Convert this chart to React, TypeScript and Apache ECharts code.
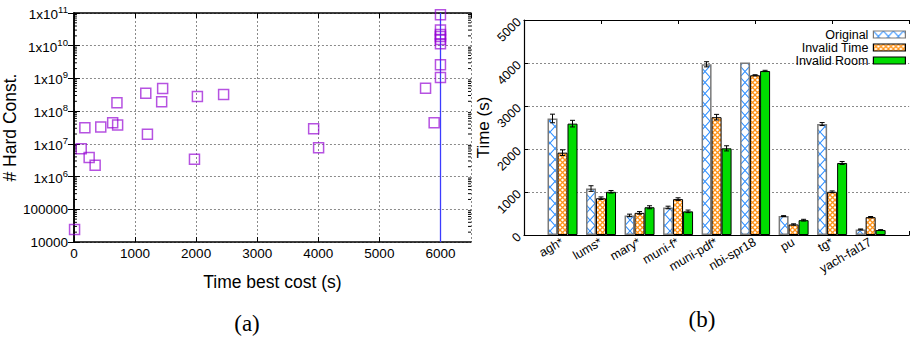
import React, { useEffect, useRef } from 'react';
import * as echarts from 'echarts';

// ---------- (a) scatter: time of best cost vs # hard constraints ----------
const scatterTime = [10, 119, 179, 249, 347, 439, 634, 715, 704, 1176, 1203, 1452, 1436, 2021, 1973, 2450, 3924, 4005, 5756, 5897, 6000, 6000, 6000, 6000, 6000, 6000, 6000, 6000];
const scatterHard = [2.4e4, 7.1e6, 3.1e7, 3.8e6, 2.2e6, 3.3e7, 4.4e7, 3.8e7, 1.8e8, 3.5e8, 1.95e7, 4.9e8, 1.95e8, 2.8e8, 3.4e6, 3.2e8, 2.9e7, 7.6e6, 5e8, 4.4e7, 8.9e10, 3e10, 2.2e10, 1.9e10, 1.55e10, 1.15e10, 2.6e9, 1.07e9];
const timeLimit = 6000;
const xMin = 0;
const xMax = 6500;
const xStep = 1000;
const yMin = 1e4;
const yMax = 1e11;

// ---------- (b) grouped bars ----------
const instances = ['agh*', 'lums*', 'mary*', 'muni-f*', 'muni-pdf*', 'nbi-spr18', 'pu', 'tg*', 'yach-fal17'];
const seriesNames = ['Original', 'Invalid Time', 'Invalid Room'];
const originalTime = [2710, 1080, 455, 640, 3970, 4010, 440, 2580, 130];
const originalErr = [100, 65, 30, 30, 60, 0, 10, 35, 10];
const invalidTimeTime = [1915, 855, 515, 835, 2740, 3715, 245, 1005, 415];
const invalidTimeErr = [65, 30, 30, 30, 65, 12, 15, 20, 15];
const invalidRoomTime = [2590, 1005, 645, 550, 2015, 3815, 345, 1675, 115];
const invalidRoomErr = [77, 30, 35, 30, 60, 15, 20, 35, 10];

const FONT = '"Liberation Sans", Arial, Helvetica, sans-serif';

function svgPattern(svg: string, w: number, h: number) {
  return {
    image: 'data:image/svg+xml;charset=utf-8,' + encodeURIComponent(svg),
    repeat: 'repeat',
    imageWidth: w,
    imageHeight: h,
  };
}

const bluePattern = svgPattern(
  "<svg xmlns='http://www.w3.org/2000/svg' width='10' height='11'><rect width='10' height='11' fill='white'/><path d='M0 0L10 11M10 0L0 11' stroke='#2e8fff' stroke-width='1.1' fill='none'/></svg>",
  10,
  11
);
const orangePattern = svgPattern(
  "<svg xmlns='http://www.w3.org/2000/svg' width='5' height='5'><rect width='5' height='5' fill='white'/><path d='M0 0L5 5M5 0L0 5' stroke='#ff9318' stroke-width='1.3' fill='none'/></svg>",
  5,
  5
);

const padCats = [' ', ...instances, '  '];
const pad = (a: number[]) => [null, ...a, null];

function errorSeries(vals: number[], errs: number[], offset: number) {
  return {
    type: 'custom',
    xAxisIndex: 2,
    yAxisIndex: 2,
    z: 5,
    silent: true,
    encode: { x: 0, y: 1 },
    data: vals.map((v, i) => [i + 1, v, errs[i]]),
    renderItem: (params: any, api: any) => {
      const c = api.value(0);
      const v = api.value(1);
      const e = api.value(2);
      if (!e) return null;
      const p1 = api.coord([c, v + e]);
      const p2 = api.coord([c, v - e]);
      const x = p1[0] + offset;
      const cap = 2.5;
      const st = { stroke: '#000', lineWidth: 1 };
      return {
        type: 'group',
        children: [
          { type: 'line', shape: { x1: x, y1: p1[1], x2: x, y2: p2[1] }, style: st },
          { type: 'line', shape: { x1: x - cap, y1: p1[1], x2: x + cap, y2: p1[1] }, style: st },
          { type: 'line', shape: { x1: x - cap, y1: p2[1], x2: x + cap, y2: p2[1] }, style: st },
        ],
      };
    },
  };
}

// minor tick values on the log axis (2..9 x each decade)
const minorVals: number[] = [];
for (let e = Math.round(Math.log10(yMin)); e < Math.round(Math.log10(yMax)); e++) {
  for (let m = 2; m <= 9; m++) minorVals.push(m * Math.pow(10, e));
}

const logLabel = (v: number) => {
  const e = Math.round(Math.log10(v));
  return e >= 6 ? `{b|1x10}{s|${e}}` : String(Math.round(v));
};
const plainLabel = (v: number) => String(Math.round(v));

const gridLine = () => ({ show: true, lineStyle: { color: '#8a8a8a', type: [2, 2], width: 1, opacity: 1 } });
const blackLine = { show: true, lineStyle: { color: '#000', width: 1.5 } };

const option: any = {
  animation: false,
  backgroundColor: '#fff',
  textStyle: { fontFamily: FONT },
  grid: [
    { left: 72, right: 444, top: 13, bottom: 99 },
    { left: 524, right: -6, top: 20, bottom: 106 },
  ],
  legend: {
    data: seriesNames,
    orient: 'vertical',
    right: 4,
    top: 23,
    align: 'right',
    icon: 'rect',
    itemWidth: 32,
    itemHeight: 7,
    itemGap: 0,
    itemStyle: { borderWidth: 1.2 },
    textStyle: { fontFamily: FONT, fontSize: 12.5, color: '#000', lineHeight: 12.7 },
  },
  xAxis: [
    {
      gridIndex: 0,
      type: 'value',
      min: xMin,
      max: xMax,
      interval: xStep,
      name: 'Time best cost (s)',
      nameLocation: 'middle',
      nameGap: 31,
      nameTextStyle: { fontFamily: FONT, fontSize: 17.5, color: '#000' },
      axisLine: blackLine,
      axisTick: { show: true, inside: true, length: 5, lineStyle: { color: '#000' } },
      axisLabel: { fontFamily: FONT, fontSize: 13.5, color: '#000', margin: 4, showMaxLabel: false, formatter: plainLabel },
      splitLine: gridLine(),
    },
    {
      gridIndex: 0,
      type: 'value',
      position: 'top',
      min: xMin,
      max: xMax,
      interval: xStep,
      axisLine: blackLine,
      axisTick: { show: true, inside: true, length: 5, lineStyle: { color: '#000' } },
      axisLabel: { show: false },
      splitLine: { show: false },
    },
    {
      gridIndex: 1,
      type: 'category',
      data: padCats,
      boundaryGap: false,
      axisLine: { show: true, lineStyle: { color: '#000', width: 1.2 } },
      axisTick: { show: true, inside: true, length: 4, lineStyle: { color: '#000' } },
      axisLabel: { interval: 0, rotate: 30, fontFamily: FONT, fontSize: 12.5, color: '#000', margin: 6 },
      splitLine: { show: false },
    },
    {
      gridIndex: 1,
      type: 'category',
      data: padCats,
      boundaryGap: false,
      position: 'top',
      axisLine: { show: true, lineStyle: { color: '#000', width: 1.2 } },
      axisTick: { show: true, inside: true, length: 4, lineStyle: { color: '#000' } },
      axisLabel: { show: false },
      splitLine: { show: false },
    },
  ],
  yAxis: [
    {
      gridIndex: 0,
      type: 'log',
      logBase: 10,
      min: yMin,
      max: yMax,
      splitNumber: 7,
      name: '# Hard Const.',
      nameLocation: 'middle',
      nameGap: 45,
      nameTextStyle: { fontFamily: FONT, fontSize: 17.5, color: '#000' },
      axisLine: blackLine,
      axisTick: { show: true, inside: true, length: 6, lineStyle: { color: '#000' } },
      axisLabel: {
        fontFamily: FONT,
        fontSize: 13.5,
        color: '#000',
        margin: 6,
        formatter: logLabel,
        rich: {
          b: { fontFamily: FONT, fontSize: 13.5, color: '#000', verticalAlign: 'bottom', padding: [3, 0, 0, 0] },
          s: { fontFamily: FONT, fontSize: 9.5, color: '#000', verticalAlign: 'top' },
        },
      },
      splitLine: gridLine(),
    },
    {
      gridIndex: 0,
      type: 'log',
      logBase: 10,
      min: yMin,
      max: yMax,
      splitNumber: 7,
      position: 'right',
      axisLine: blackLine,
      axisTick: { show: true, inside: true, length: 6, lineStyle: { color: '#000' } },
      axisLabel: { show: false },
      splitLine: { show: false },
    },
    {
      gridIndex: 1,
      type: 'value',
      min: 0,
      max: 5000,
      interval: 1000,
      name: 'Time (s)',
      nameLocation: 'middle',
      nameGap: 29,
      nameTextStyle: { fontFamily: FONT, fontSize: 17, color: '#000' },
      axisLine: { show: true, lineStyle: { color: '#000', width: 1.2 } },
      axisTick: { show: true, inside: true, length: 4, lineStyle: { color: '#000' } },
      axisLabel: { rotate: 45, fontFamily: FONT, fontSize: 12.5, color: '#000', margin: 5, formatter: plainLabel },
      splitLine: gridLine(),
    },
  ],
  series: [
    {
      type: 'custom',
      xAxisIndex: 0,
      yAxisIndex: 0,
      silent: true,
      z: 4,
      encode: { x: 0, y: 1 },
      data: minorVals.map((v) => [xMin, v]),
      renderItem: (params: any, api: any) => {
        const v = api.value(1);
        const pL = api.coord([xMin, v]);
        const pR = api.coord([xMax, v]);
        const st = { stroke: '#000', lineWidth: 1 };
        return {
          type: 'group',
          children: [
            { type: 'line', shape: { x1: pL[0], y1: pL[1], x2: pL[0] + 3, y2: pL[1] }, style: st },
            { type: 'line', shape: { x1: pR[0] - 3, y1: pR[1], x2: pR[0], y2: pR[1] }, style: st },
          ],
        };
      },
    },
    {
      type: 'scatter',
      xAxisIndex: 0,
      yAxisIndex: 0,
      symbol: 'rect',
      symbolSize: 10,
      clip: false,
      z: 6,
      itemStyle: { color: 'rgba(0,0,0,0)', borderColor: 'rgba(148,0,211,0.85)', borderWidth: 1.5 },
      data: scatterTime.map((t, i) => [t, scatterHard[i]]),
      markLine: {
        silent: true,
        symbol: 'none',
        label: { show: false },
        lineStyle: { color: '#3c3cff', width: 1.3, type: 'solid' },
        data: [{ xAxis: timeLimit }],
      },
    },
    {
      name: seriesNames[0],
      type: 'bar',
      xAxisIndex: 2,
      yAxisIndex: 2,
      barWidth: 10,
      barGap: '0%',
      itemStyle: { color: bluePattern, borderColor: '#7a7a7a', borderWidth: 1.5 },
      data: pad(originalTime),
    },
    {
      name: seriesNames[1],
      type: 'bar',
      xAxisIndex: 2,
      yAxisIndex: 2,
      barWidth: 10,
      barGap: '0%',
      itemStyle: { color: orangePattern, borderColor: '#000', borderWidth: 1 },
      data: pad(invalidTimeTime),
    },
    {
      name: seriesNames[2],
      type: 'bar',
      xAxisIndex: 2,
      yAxisIndex: 2,
      barWidth: 10,
      barGap: '0%',
      itemStyle: { color: '#00dd00', borderColor: '#000', borderWidth: 1 },
      data: pad(invalidRoomTime),
    },
    errorSeries(originalTime, originalErr, -10),
    errorSeries(invalidTimeTime, invalidTimeErr, 0),
    errorSeries(invalidRoomTime, invalidRoomErr, 10),
  ],
  graphic: [
    {
      type: 'text',
      x: 247,
      y: 323,
      style: { text: '(a)', font: '23px "Liberation Serif", serif', fill: '#000', align: 'center', verticalAlign: 'middle' },
    },
    {
      type: 'text',
      x: 702,
      y: 319,
      style: { text: '(b)', font: '23px "Liberation Serif", serif', fill: '#000', align: 'center', verticalAlign: 'middle' },
    },
  ],
};

export default function App() {
  const ref = useRef<HTMLDivElement>(null);
  useEffect(() => {
    const chart = echarts.init(ref.current!, null, { renderer: 'svg' });
    chart.setOption(option);
    return () => chart.dispose();
  }, []);
  return (
    <div
      ref={ref}
      style={{ position: 'absolute', left: 0, top: 0, width: 915, height: 341, background: '#fff' }}
    />
  );
}
